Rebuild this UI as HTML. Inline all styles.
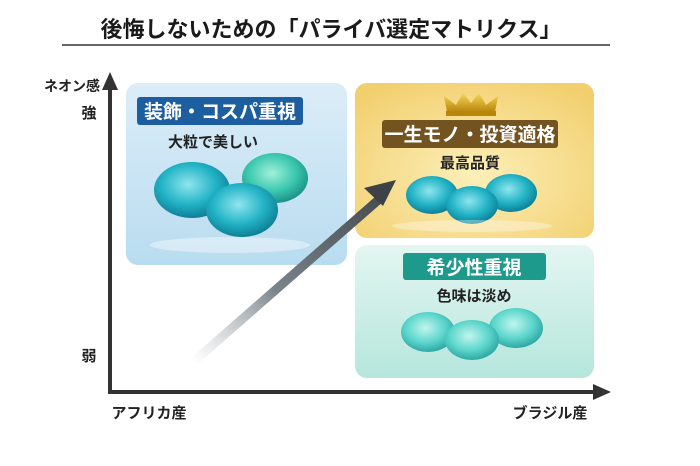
<!DOCTYPE html>
<html><head><meta charset="utf-8"><style>
html,body{margin:0;padding:0;background:#fff;}
svg{display:block}
text{font-family:"Liberation Sans","Noto Sans CJK JP",sans-serif;font-weight:bold;}
</style></head><body>
<svg width="700" height="466" viewBox="0 0 700 466" xmlns="http://www.w3.org/2000/svg">
<defs>
<linearGradient id="bl" x1="0" y1="0" x2="0" y2="1"><stop offset="0" stop-color="#dcedf8"/><stop offset="1" stop-color="#b9dcf0"/></linearGradient>
<radialGradient id="yl" cx="0.5" cy="0.6" r="0.7"><stop offset="0" stop-color="#fcefb8"/><stop offset="1" stop-color="#f2cf6e"/></radialGradient>
<linearGradient id="gr" x1="0" y1="0" x2="0" y2="1"><stop offset="0" stop-color="#e4f6f1"/><stop offset="1" stop-color="#b5e6dc"/></linearGradient>
<linearGradient id="ar" x1="190" y1="360" x2="400" y2="180" gradientUnits="userSpaceOnUse"><stop offset="0" stop-color="#ffffff" stop-opacity="0.6"/><stop offset="0.4" stop-color="#7a848c"/><stop offset="1" stop-color="#3d4246"/></linearGradient>
<radialGradient id="g1" cx="0.45" cy="0.4" r="0.6"><stop offset="0" stop-color="#8fe6ee"/><stop offset="0.6" stop-color="#22b3c6"/><stop offset="1" stop-color="#0f7f96"/></radialGradient>
<radialGradient id="g2" cx="0.45" cy="0.4" r="0.6"><stop offset="0" stop-color="#a2f0d8"/><stop offset="0.6" stop-color="#3cc8b0"/><stop offset="1" stop-color="#1c9488"/></radialGradient>
<radialGradient id="g3" cx="0.45" cy="0.4" r="0.6"><stop offset="0" stop-color="#c2f5ef"/><stop offset="0.6" stop-color="#5dd6cc"/><stop offset="1" stop-color="#2fa8a6"/></radialGradient>
<linearGradient id="cr" x1="0" y1="0" x2="0" y2="1"><stop offset="0" stop-color="#f7d55a"/><stop offset="1" stop-color="#b8860b"/></linearGradient>
</defs>
<text x="331" y="37" font-size="22" text-anchor="middle" fill="#1a1a1a">後悔しないための「パライバ選定マトリクス」</text>
<line x1="62" y1="45" x2="610" y2="45" stroke="#333" stroke-width="1.5"/>

<rect x="126" y="83" width="221" height="182" rx="12" fill="url(#bl)"/>
<rect x="355" y="83" width="239" height="155" rx="12" fill="url(#yl)"/>
<rect x="355" y="245" width="239" height="133" rx="12" fill="url(#gr)"/>

<rect x="137" y="97" width="166" height="28" rx="3" fill="#1d5ea0"/>
<text x="220" y="118" font-size="19" text-anchor="middle" fill="#fff">装飾・コスパ重視</text>
<text x="213" y="147" font-size="15" text-anchor="middle" fill="#222">大粒で美しい</text>
<ellipse cx="192" cy="190" rx="38" ry="28" fill="url(#g1)"/>
<ellipse cx="275" cy="178" rx="33" ry="25" fill="url(#g2)"/>
<ellipse cx="242" cy="210" rx="36" ry="27" fill="url(#g1)"/>
<ellipse cx="230" cy="245" rx="80" ry="8" fill="#fff" opacity="0.4"/>

<path d="M447 112 L444 96 L456 105 L463 93 L471 103 L479 93 L486 105 L498 96 L495 112 Z" fill="url(#cr)"/>
<rect x="446" y="111" width="50" height="5" fill="#b8860b"/>
<rect x="382" y="120" width="176" height="28" rx="3" fill="#73531f"/>
<text x="470" y="141" font-size="19" text-anchor="middle" fill="#fff">一生モノ・投資適格</text>
<text x="470" y="168" font-size="15" text-anchor="middle" fill="#222">最高品質</text>
<ellipse cx="432" cy="195" rx="26" ry="19" fill="url(#g1)"/>
<ellipse cx="511" cy="193" rx="26" ry="19" fill="url(#g1)"/>
<ellipse cx="472" cy="205" rx="26" ry="19" fill="url(#g1)"/>
<ellipse cx="472" cy="226" rx="80" ry="6" fill="#fff" opacity="0.35"/>

<rect x="403" y="253" width="143" height="27" rx="3" fill="#1e9a8c"/>
<text x="474" y="274" font-size="19" text-anchor="middle" fill="#fff">希少性重視</text>
<text x="474" y="301" font-size="15" text-anchor="middle" fill="#222">色味は淡め</text>
<ellipse cx="428" cy="332" rx="27" ry="20" fill="url(#g3)"/>
<ellipse cx="516" cy="328" rx="27" ry="20" fill="url(#g3)"/>
<ellipse cx="472" cy="340" rx="27" ry="20" fill="url(#g3)"/>

<line x1="192" y1="363" x2="384" y2="195" stroke="url(#ar)" stroke-width="9"/>
<polygon points="396,180 364,188 383,206" fill="#3d4246"/>

<line x1="110" y1="392" x2="110" y2="85" stroke="#333" stroke-width="4"/>
<polygon points="110,72 102,90 118,90" fill="#333"/>
<line x1="108" y1="392" x2="598" y2="392" stroke="#333" stroke-width="4"/>
<polygon points="611,392 593,384 593,400" fill="#333"/>

<text x="72" y="91" font-size="14" text-anchor="middle" fill="#222">ネオン感</text>
<text x="89" y="118" font-size="15" text-anchor="middle" fill="#222">強</text>
<text x="89" y="361" font-size="15" text-anchor="middle" fill="#222">弱</text>
<text x="149" y="418" font-size="15" text-anchor="middle" fill="#222">アフリカ産</text>
<text x="550" y="418" font-size="15" text-anchor="middle" fill="#222">ブラジル産</text>
</svg>
</body></html>
